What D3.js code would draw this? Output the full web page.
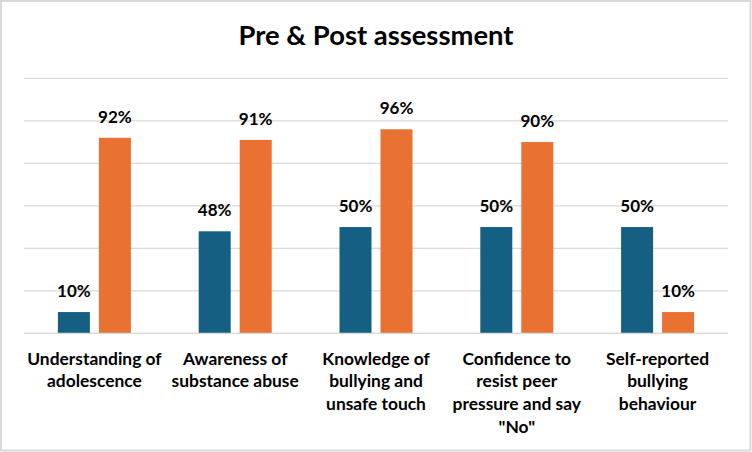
<!DOCTYPE html>
<html><head><meta charset="utf-8">
<script src="https://cdn.jsdelivr.net/npm/d3@7"></script>
<style>body{margin:0;background:#fff}svg{display:block}text{font-family:Lato,"Open Sans",sans-serif;font-weight:bold;fill:#000}</style>
</head><body><svg id="c" width="752" height="452"></svg>
<script>
const categories = [["Understanding of","adolescence"],["Awareness of","substance abuse"],["Knowledge of","bullying and","unsafe touch"],["Confidence to","resist peer","pressure and say","\"No\""],["Self-reported","bullying","behaviour"]];
const seriesNames = ["Pre","Post"];
const pre = [10,48,50,50,50];
const post = [92,91,96,90,10];
const yTicks = [0,20,40,60,80,100,120];
const colors = ["#156082","#E97132"];
const title = "Pre & Post assessment";

const svg = d3.select("#c");
const W=752,H=452;
svg.append("rect").attr("x",1).attr("y",1).attr("width",W-2.5).attr("height",H-2.5).attr("fill","#fff").attr("stroke","#d9d9d9").attr("stroke-width",2);
const m={l:24,r:24};
const x0=d3.scaleBand().domain(d3.range(categories.length)).range([m.l,W-m.r]);
const y=d3.scaleLinear().domain([0,120]).range([333.3,78.3]);
const bw=32, gap=9;
svg.append("g").selectAll("line").data(yTicks).join("line")
 .attr("x1",m.l).attr("x2",W-m.r).attr("y1",d=>y(d)).attr("y2",d=>y(d))
 .attr("stroke","#d9d9d9").attr("stroke-width",1.3);
const series=[pre,post];
series.forEach((s,si)=>{
  const g=svg.append("g");
  g.selectAll("rect").data(s).join("rect")
   .attr("x",(d,i)=>x0(i)+x0.bandwidth()/2+(si===0?-gap/2-bw:gap/2))
   .attr("width",bw).attr("y",d=>y(d)).attr("height",d=>y(0)-y(d)).attr("fill",colors[si]);
  g.selectAll("text").data(s).join("text")
   .attr("x",(d,i)=>x0(i)+x0.bandwidth()/2+(si===0?-gap/2-bw/2:gap/2+bw/2))
   .attr("y",d=>y(d)-15).attr("text-anchor","middle").attr("font-size",17).text(d=>d+"%");
});
svg.append("line").attr("x1",m.l).attr("x2",W-m.r).attr("y1",y(0)).attr("y2",y(0)).attr("stroke","#d9d9d9").attr("stroke-width",1.3);
const cl=svg.append("g");
categories.forEach((lines,i)=>{
  const t=cl.append("text").attr("text-anchor","middle").attr("font-size",17.4);
  lines.forEach((ln,j)=>t.append("tspan").attr("x",x0(i)+x0.bandwidth()/2).attr("y",364.5+j*22.7).text(ln));
});
svg.append("text").attr("x",376).attr("y",45).attr("text-anchor","middle").attr("font-size",27.4).text(title);
</script></body></html>
